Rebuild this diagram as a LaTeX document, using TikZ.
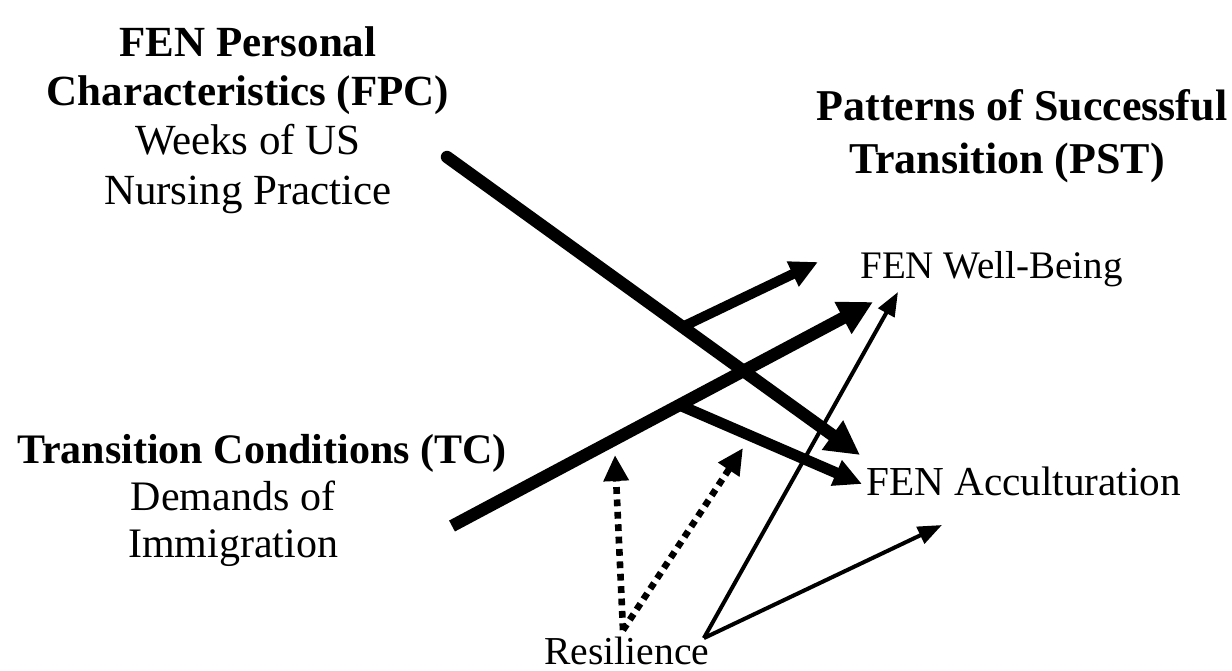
\documentclass[tikz,border=0pt]{standalone}
\usepackage{fontspec}
\setmainfont{Liberation Serif}
\usetikzlibrary{arrows.meta,calc}
\begin{document}
\begin{tikzpicture}[x=0.5pt,y=-0.5pt,
  lbl/.style={inner sep=0pt,align=center,text=black},
  heavy/.style={line width=6.2pt,-{Triangle[length=17pt,width=17pt]}},
  branch/.style={line width=5pt,-{Triangle[length=14pt,width=13pt]}},
  slim/.style={line width=2pt,-{Triangle[length=12pt,width=9pt]}},
  dots/.style={line width=3.3pt,dash pattern=on 3.4pt off 2.8pt,-{Triangle[length=13pt,width=12pt]}},
]
\useasboundingbox (0,0) rectangle (1232,670);
\fill[white] (0,0) rectangle (1232,670);

% labels
\node[lbl,font=\fontsize{21.5}{24.7}\selectfont] (fpc) at (248,120)
  {\textbf{FEN Personal}\\\textbf{Characteristics (FPC)}\\Weeks of US\\Nursing Practice};
\node[lbl,font=\fontsize{22}{26.5}\selectfont\bfseries] (pst) at (1022,136)
  {Patterns of Successful\\Transition (PST)\rule{15pt}{0pt}};
\node[lbl,font=\fontsize{19.5}{23}\selectfont,anchor=base west] (wb) at (860,278) {FEN Well-Being};
\node[lbl,font=\fontsize{20.6}{23}\selectfont,anchor=base west] (acc) at (866,495) {FEN Acculturation};
\node[lbl,font=\fontsize{21}{23.5}\selectfont] (tc) at (262,500)
  {\textbf{Transition Conditions (TC)}\\Demands of\rule{29pt}{0pt}\\Immigration\rule{29pt}{0pt}};
\node[lbl,font=\fontsize{19.8}{23}\selectfont,anchor=base] (res) at (627,664) {Resilience};

% connector end points
\coordinate (l1s) at (447,157);
\coordinate (l1e) at (860,455);
\coordinate (b2e) at (818,262);
\coordinate (l3s) at (452,526);
\coordinate (l3e) at (873,302);
\coordinate (b4e) at (862,484);
\coordinate (d1e) at (615,455);
\coordinate (d2e) at (743,448);
\coordinate (t1e) at (898,292);
\coordinate (t2e) at (942,525);
\coordinate (rd) at ($(res.north)+(-4,-6)$);
\coordinate (rt) at ($(res.north east)+(-6,2)$);
\coordinate (b2s) at ($(l1s)!0.57!(l1e)$);
\coordinate (b4s) at ($(l3s)!0.54!(l3e)$);

% connectors
\draw[heavy,line cap=round] (l1s) -- (l1e);
\draw[branch] (b2s) -- (b2e);
\draw[heavy] (l3s) -- (l3e);
\draw[branch,line width=5.5pt] (b4s) -- (b4e);
\draw[dots] (rd) -- (d1e);
\draw[dots] (rd) -- (d2e);
\draw[slim] (rt) -- (t1e);
\draw[slim] (rt) -- (t2e);
\end{tikzpicture}
\end{document}
